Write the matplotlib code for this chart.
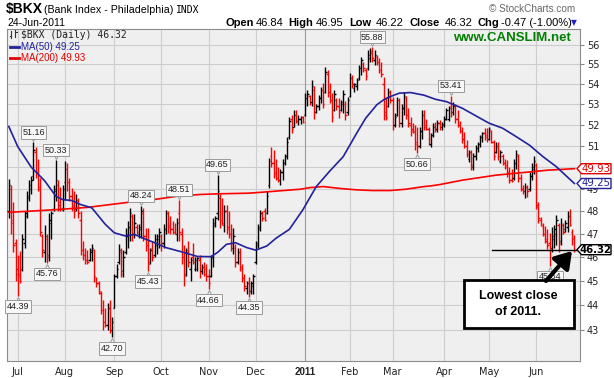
import numpy as np
import pandas as pd
import matplotlib
matplotlib.use('Agg')
import matplotlib.pyplot as plt
from matplotlib.collections import LineCollection
from matplotlib.patches import Polygon, Rectangle, FancyArrowPatch
from matplotlib.lines import Line2D
from matplotlib.ticker import FixedLocator, NullLocator, FuncFormatter
from matplotlib.transforms import offset_copy

# trading sessions 25-Jun-2010 .. 24-Jun-2011
holidays = ['2010-07-05', '2010-09-06', '2010-11-25', '2010-12-24',
            '2011-01-17', '2011-02-21', '2011-04-22', '2011-05-30']
days = pd.bdate_range('2010-06-25', '2011-06-24')
days = days[~days.isin(pd.to_datetime(holidays))]

opens = [48.0, 49.0, 47.5, 46.6, 45.5, 45.3, 45.5, 46.6, 47.9, 48.6,
         49.0, 49.6, 50.7, 49.8, 49.0, 46.9, 46.2, 46.8, 46.1, 47.5,
         48.1, 48.9, 49.2, 48.4, 48.1, 49.3, 49.9, 49.3, 48.7, 48.2,
         48.1, 48.4, 47.6, 46.3, 46.1, 45.9, 45.9, 46.2, 46.3, 45.1,
         44.9, 44.5, 43.8, 43.3, 43.2, 43.9, 43.0, 43.9, 45.2, 45.8,
         46.2, 45.4, 46.2, 46.9, 47.3, 47.8, 47.0, 47.3, 47.0, 47.2,
         47.9, 46.9, 46.5, 45.8, 46.4, 46.1, 46.5, 46.8, 46.9, 46.6,
         47.2, 47.9, 47.4, 47.2, 47.1, 47.0, 47.9, 47.0, 46.0, 45.3,
         46.3, 45.5, 46.0, 45.5, 45.5, 45.9, 45.4, 45.6, 45.5, 45.2,
         45.2, 46.0, 47.4, 47.9, 48.6, 47.9, 47.4, 48.0, 47.3, 47.0,
         46.4, 46.4, 45.8, 46.2, 45.5, 45.1, 44.7, 44.9, 44.6, 44.8,
         45.8, 46.6, 47.3, 47.9, 48.0, 47.9, 49.2, 50.5, 50.2, 49.8,
         49.5, 49.4, 49.8, 50.2, 50.5, 51.4, 52.3, 51.9, 52.5, 52.2,
         52.3, 52.4, 52.5, 53.3, 53.4, 53.1, 53.7, 52.6, 52.9, 53.3,
         53.7, 53.6, 54.5, 53.6, 53.2, 52.7, 53.2, 52.9, 52.7, 53.0,
         53.0, 52.6, 53.4, 54.3, 53.8, 53.9, 54.3, 54.8, 55.0, 54.7,
         54.8, 55.3, 55.7, 55.2, 55.4, 55.1, 54.7, 54.0, 52.6, 52.9,
         53.6, 53.2, 52.0, 52.5, 53.2, 52.1, 52.8, 53.3, 52.5, 52.0,
         51.8, 51.7, 51.2, 51.0, 51.7, 52.5, 52.0, 51.8, 51.1, 51.5,
         52.0, 51.8, 52.1, 51.9, 52.0, 52.3, 52.3, 52.9, 52.6, 52.9,
         52.3, 52.0, 51.7, 51.3, 51.0, 50.4, 50.7, 50.0, 50.5, 50.9,
         51.1, 51.4, 51.6, 51.5, 51.3, 51.7, 51.2, 50.7, 51.0, 50.3,
         50.5, 50.2, 50.1, 49.8, 49.4, 49.5, 50.2, 50.5, 49.5, 49.0,
         48.9, 49.1, 49.0, 49.6, 49.9, 50.1, 48.2, 47.6, 47.3, 47.0,
         46.8, 46.6, 46.4, 46.8, 47.0, 47.4, 46.7, 47.4, 47.2, 47.3,
         47.8, 47.1, 46.84]
highs = [49.45, 49.2, 48.4, 46.8, 46.1, 46.27, 47.0, 48.0, 48.9, 49.4,
         49.6, 51.16, 50.96, 50.4, 49.5, 47.0, 47.4, 47.0, 47.9, 48.0,
         49.2, 50.33, 49.4, 49.1, 49.2, 50.3, 50.2, 49.5, 49.05, 48.9,
         48.75, 48.6, 48.0, 46.7, 46.4, 46.3, 46.4, 46.55, 46.35, 45.15,
         45.0, 44.6, 44.19, 43.9, 44.1, 44.2, 43.5, 45.3, 45.7, 46.55,
         46.4, 46.3, 47.27, 47.56, 48.15, 47.86, 47.86, 47.42, 47.42, 48.24,
         48.15, 47.27, 47.27, 46.41, 46.69, 46.98, 46.98, 47.27, 46.98, 47.42,
         48.07, 48.0, 47.8, 47.56, 47.5, 47.7, 48.51, 47.27, 46.5, 46.4,
         46.7, 46.0, 46.6, 46.0, 46.0, 46.1, 45.7, 45.8, 45.7, 45.5,
         46.1, 47.7, 47.8, 49.65, 48.75, 48.6, 48.3, 48.3, 48.0, 47.42,
         47.27, 46.55, 46.41, 46.41, 45.71, 45.29, 45.0, 45.15, 45.0, 45.29,
         46.69, 47.42, 48.07, 48.0, 48.15, 48.9, 50.41, 50.96, 50.8, 50.4,
         50.0, 49.9, 50.4, 50.6, 51.4, 52.4, 52.5, 52.74, 52.7, 52.5,
         52.45, 52.45, 53.55, 53.71, 53.46, 54.2, 53.9, 53.0, 53.46, 53.87,
         54.04, 54.87, 54.71, 54.04, 53.55, 53.71, 53.3, 53.3, 53.22, 53.71,
         53.14, 53.38, 54.54, 54.46, 54.04, 54.29, 54.96, 55.39, 55.12, 54.8,
         55.74, 55.83, 55.88, 55.74, 55.48, 55.31, 55.12, 54.37, 53.38, 53.79,
         53.71, 53.38, 52.58, 53.38, 53.3, 53.0, 53.6, 53.4, 52.8, 52.4,
         52.1, 52.0, 51.9, 51.9, 52.7, 52.7, 52.3, 51.9, 51.6, 52.08,
         52.16, 52.24, 52.24, 52.16, 52.41, 52.81, 52.9, 53.41, 53.1, 53.0,
         52.7, 52.2, 51.92, 51.68, 51.28, 50.81, 50.81, 50.65, 51.04, 51.2,
         51.52, 51.68, 51.84, 51.84, 51.92, 51.76, 51.28, 51.2, 51.2, 50.81,
         50.6, 50.4, 50.33, 50.0, 49.9, 50.4, 50.81, 50.6, 49.7, 49.2,
         49.25, 49.2, 49.8, 50.2, 50.5, 50.2, 48.4, 47.76, 47.47, 47.33,
         47.2, 47.04, 47.3, 47.4, 47.83, 47.5, 47.7, 47.5, 47.62, 48.0,
         48.1, 47.2, 46.95]
lows = [47.7, 47.0, 46.2, 45.0, 44.39, 44.9, 45.4, 46.4, 47.7, 48.45,
        48.75, 49.4, 49.5, 48.9, 46.9, 46.0, 45.8, 45.76, 45.85, 46.8,
        48.0, 48.45, 48.0, 48.0, 48.0, 48.5, 48.9, 48.45, 48.0, 47.7,
        48.0, 47.7, 46.1, 45.9, 45.7, 45.7, 45.85, 45.85, 44.95, 44.74,
        44.46, 43.65, 43.0, 43.1, 43.0, 42.86, 42.70, 43.9, 45.1, 45.7,
        45.15, 45.15, 46.13, 46.41, 46.69, 46.69, 46.84, 46.98, 46.84, 46.84,
        46.69, 46.27, 45.43, 45.71, 45.85, 45.99, 46.13, 46.41, 46.27, 46.41,
        46.98, 47.05, 46.98, 46.98, 46.98, 46.7, 46.7, 45.71, 44.8, 45.2,
        45.6, 45.0, 45.7, 45.4, 45.4, 45.1, 45.3, 45.2, 45.0, 44.66,
        45.15, 45.6, 47.3, 47.6, 47.27, 47.4, 47.1, 46.98, 46.84, 46.27,
        46.13, 45.57, 45.71, 45.43, 44.94, 44.6, 44.46, 44.35, 44.46, 44.46,
        45.71, 46.41, 47.13, 47.56, 47.55, 47.86, 49.05, 50.0, 49.5, 49.4,
        49.3, 49.2, 49.4, 50.1, 50.4, 51.3, 51.6, 51.9, 52.1, 52.0,
        52.05, 52.1, 52.41, 52.9, 52.98, 52.9, 52.3, 52.55, 52.74, 53.06,
        52.8, 53.55, 53.38, 53.06, 52.16, 52.66, 52.74, 52.33, 52.66, 52.58,
        52.24, 52.5, 53.38, 53.79, 53.63, 53.71, 54.21, 54.46, 54.62, 54.2,
        54.71, 55.12, 55.12, 54.96, 54.96, 54.54, 54.37, 52.24, 52.24, 52.85,
        53.06, 51.76, 51.9, 52.45, 51.9, 51.9, 52.5, 52.3, 51.9, 51.45,
        51.6, 50.8, 50.66, 50.9, 51.3, 51.76, 51.76, 51.05, 50.96, 51.44,
        51.68, 51.68, 51.76, 51.76, 51.92, 52.24, 52.2, 52.4, 52.5, 52.1,
        51.9, 51.6, 51.12, 50.88, 50.49, 50.25, 49.86, 49.86, 50.33, 50.73,
        50.96, 51.2, 51.28, 51.2, 51.28, 51.12, 50.33, 50.65, 50.33, 50.2,
        50.1, 49.9, 49.56, 49.25, 49.3, 49.4, 49.9, 49.3, 48.9, 48.75,
        48.6, 48.65, 48.9, 49.4, 49.7, 48.1, 47.5, 47.33, 46.9, 46.62,
        46.34, 45.64, 46.2, 46.4, 46.5, 46.2, 46.5, 47.0, 47.1, 47.1,
        47.35, 46.5, 46.22]
closes = [49.2, 47.6, 46.5, 45.3, 45.2, 45.0, 46.8, 47.8, 48.7, 49.2,
          49.4, 50.8, 49.8, 49.1, 47.1, 46.3, 46.9, 46.0, 47.6, 47.9,
          49.0, 49.4, 48.3, 48.1, 49.0, 49.9, 49.3, 48.7, 48.3, 48.0,
          48.5, 47.9, 46.3, 46.1, 45.9, 45.8, 46.3, 46.4, 45.2, 44.9,
          44.6, 43.8, 43.3, 43.2, 43.9, 43.0, 43.3, 45.2, 45.5, 46.3,
          45.3, 46.0, 47.0, 47.3, 47.9, 47.0, 47.5, 47.1, 47.3, 48.0,
          46.9, 46.5, 45.7, 46.3, 46.0, 46.8, 46.9, 47.1, 46.6, 47.2,
          47.9, 47.3, 47.2, 47.1, 47.0, 47.5, 47.1, 46.0, 45.2, 46.2,
          45.8, 45.9, 45.8, 45.9, 45.95, 45.5, 45.6, 45.3, 45.2, 44.9,
          46.0, 47.5, 47.7, 48.9, 47.6, 47.5, 48.0, 47.2, 47.0, 46.5,
          46.9, 45.8, 46.2, 45.6, 45.1, 44.8, 44.9, 44.6, 44.9, 45.2,
          46.5, 47.2, 47.9, 47.7, 47.6, 48.7, 50.3, 50.2, 49.7, 49.5,
          49.4, 49.8, 50.2, 50.5, 51.2, 52.2, 51.8, 52.5, 52.2, 52.3,
          52.4, 52.15, 53.3, 53.5, 53.1, 53.9, 52.6, 52.9, 53.3, 53.7,
          53.0, 54.6, 53.6, 53.2, 52.4, 53.5, 52.9, 52.6, 53.1, 53.5,
          52.5, 53.2, 54.3, 54.0, 54.02, 54.2, 54.8, 55.2, 54.8, 54.4,
          55.5, 55.6, 55.3, 55.5, 55.1, 54.7, 54.5, 52.5, 52.4, 53.6,
          53.2, 52.0, 52.4, 53.2, 52.1, 52.8, 53.4, 52.5, 52.1, 51.7,
          51.65, 51.1, 51.0, 51.7, 52.5, 51.9, 51.8, 51.3, 51.5, 51.9,
          51.8, 52.1, 51.9, 52.05, 52.3, 52.7, 52.8, 52.6, 52.9, 52.3,
          52.0, 51.7, 51.3, 51.0, 50.6, 50.7, 50.1, 50.5, 50.9, 51.1,
          51.4, 51.6, 51.4, 51.3, 51.8, 51.2, 50.5, 51.0, 50.5, 50.7,
          50.2, 50.0, 49.8, 49.4, 49.35, 50.2, 50.6, 49.5, 49.0, 48.9,
          49.1, 48.9, 49.6, 50.0, 50.3, 48.3, 47.7, 47.4, 47.0, 46.7,
          46.5, 46.4, 46.9, 47.2, 47.6, 46.6, 47.4, 47.1, 47.5, 47.8,
          47.4, 46.79, 46.32]

# moving averages (session number, value)
ma50_bar = [0, 4, 10, 16, 21, 24, 28, 32, 37, 43, 47, 52, 56, 61, 65, 70, 78,
            84, 90, 93, 97, 101, 106, 110, 115, 119, 125, 131, 137, 143, 149,
            155, 159, 164, 167, 170, 174, 179, 185, 190, 195, 202, 210, 214,
            220, 226, 232, 238, 244, 248, 252]
ma50 = [51.92, 50.96, 50.0, 49.37, 48.67, 48.52, 48.48, 48.3, 48.15, 47.42,
        47.05, 46.91, 46.98, 46.77, 46.62, 46.41, 46.2, 46.03, 46.02, 46.2,
        46.55, 46.62, 46.41, 46.3, 46.48, 46.81, 47.2, 48.06, 49.11, 49.82,
        50.49, 51.6, 52.32, 52.98, 53.22, 53.38, 53.55, 53.58, 53.45, 53.25,
        53.13, 52.81, 52.32, 52.08, 51.84, 51.44, 51.03, 50.49, 50.02, 49.63,
        49.25]
ma200_bar = [0, 21, 35, 43, 55, 63, 75, 85, 93, 107, 115, 125, 130, 134, 140,
             148, 155, 162, 170, 177, 185, 188, 192, 202, 217, 225, 232, 240, 252]
ma200 = [47.95, 48.07, 48.17, 48.27, 48.42, 48.5, 48.67, 48.75, 48.78, 48.81,
         48.87, 48.95, 48.99, 49.06, 49.11, 49.02, 48.96, 48.93, 48.93, 48.99,
         49.11, 49.14, 49.2, 49.4, 49.63, 49.71, 49.78, 49.86, 49.93]

peak_bars = [11, 21, 59, 76, 93, 162, 197]
trough_bars = [4, 17, 46, 62, 89, 107, 182, 241]

W, H = 614, 378
fig = plt.figure(figsize=(W / 100, H / 100), dpi=100)
fig.patch.set_facecolor('white')


def fx(x):
    return x / W


def fy(y):
    return 1 - y / H


ax = fig.add_axes([fx(7), fy(361), fx(573), 332 / H])
ax.set_facecolor('#efefef')
ax.set_yscale('log')
n = len(closes)
ax.set_xlim(-0.8, 254.5)
ax.set_ylim(41.78, 56.83)

# month grid
months = [k for k in range(1, n) if days[k].month != days[k - 1].month]
for k in months:
    ax.axvline(k, color='#999999' if days[k].month == 1 else '#cdcdcd', lw=0.8, zorder=1)
ax.grid(axis='y', color='#cdcdcd', lw=0.8, zorder=1)
ax.set_axisbelow(True)

# OHLC bars, red when the close is below the previous close
down = np.r_[False, np.diff(closes) < 0]
segs, cols = [], []
for k in range(n):
    c = '#ff0000' if down[k] else 'black'
    segs += [[(k, lows[k]), (k, highs[k])],
             [(k - 0.6, opens[k]), (k, opens[k])],
             [(k, closes[k]), (k + 0.6, closes[k])]]
    cols += [c] * 3
ax.add_collection(LineCollection(segs, colors=cols, linewidths=1.0, zorder=3))

ax.plot(ma200_bar, ma200, color='#ff0000', lw=1.2, zorder=4)
ax.plot(ma50_bar, ma50, color='#22229a', lw=1.2, zorder=4)
ax.axhline(closes[-1], xmin=0.846, color='black', lw=1, zorder=4)

# axes cosmetics; the 50 label sits under the MA(200) tag
ax.yaxis.set_major_locator(FixedLocator(range(43, 57)))
ax.yaxis.set_minor_locator(NullLocator())
ax.yaxis.set_major_formatter(FuncFormatter(lambda v, p: '' if round(v) == 50 else f'{v:.0f}'))
ax.yaxis.tick_right()
ax.tick_params(axis='y', length=3, width=0.8, color='#888888', labelsize=7,
               pad=2, labelcolor='#222222')
ax.set_xticks(months)
ax.set_xticklabels(['2011' if days[k].month == 1 else days[k].strftime('%b') for k in months])
for lab, k in zip(ax.get_xticklabels(), months):
    if days[k].month == 1:
        lab.set_fontweight('bold')
        lab.set_fontfamily('Liberation Sans')
        lab.set_fontsize(8)
ax.tick_params(axis='x', length=0, labelsize=7, pad=4, labelcolor='#222222')
for s in ax.spines.values():
    s.set_color('#8c8c8c')
    s.set_linewidth(0.8)

# high / low value flags
box = dict(boxstyle='square,pad=0.18', fc='#f7f7f7', ec='#9a9a9a', lw=0.7)
for k in peak_bars:
    ax.plot([k], [highs[k]], marker='v', ms=4, mfc='#f7f7f7', mec='#9a9a9a', mew=0.7,
            transform=offset_copy(ax.transData, fig=fig, y=4, units='dots'), zorder=6,
            clip_on=False)
    ax.annotate(f'{highs[k]:.2f}', (k, highs[k]), xytext=(0, 10), textcoords='offset pixels',
                ha='center', va='center', fontsize=6.5, family='Liberation Sans',
                color='#222222', bbox=box, zorder=7)
for k in trough_bars:
    ax.plot([k], [lows[k]], marker='^', ms=4, mfc='#f7f7f7', mec='#9a9a9a', mew=0.7,
            transform=offset_copy(ax.transData, fig=fig, y=-4, units='dots'), zorder=6,
            clip_on=False)
    ax.annotate(f'{lows[k]:.2f}', (k, lows[k]), xytext=(0, -11), textcoords='offset pixels',
                ha='center', va='center', fontsize=6.5, family='Liberation Sans',
                color='#222222', bbox=box, zorder=7)


# price tags on the right edge
def tag(v, txt, col, bold=False):
    y = ax.transData.transform((0, v))[1]
    pts = [(577, y), (581.5, y + 5), (611, y + 5), (611, y - 5), (581.5, y - 5)]
    fig.add_artist(Polygon([(px / W, py / H) for px, py in pts], closed=True,
                           transform=fig.transFigure, fc='white', ec=col, lw=1, zorder=10))
    fig.text(fx(596), y / H, txt, color=col, ha='center', va='center', fontsize=7.3,
             fontweight='bold' if bold else 'normal', zorder=11)


tag(ma200[-1], f'{ma200[-1]:.2f}', '#e00000')
tag(ma50[-1], f'{ma50[-1]:.2f}', '#22229a')
tag(closes[-1], f'{closes[-1]:.2f}', 'black', bold=True)

# header
fig.text(fx(6), fy(9.5), '$BKX', fontsize=10, fontweight='bold', family='Liberation Sans', va='center')
fig.text(fx(44), fy(10), '(Bank Index - Philadelphia)', fontsize=7.7, family='Liberation Sans', va='center')
fig.text(fx(176), fy(10), 'INDX', fontsize=7, family='DejaVu Sans Mono', va='center')
fig.text(fx(7), fy(22.5), days[-1].strftime('%d-%b-%Y'), fontsize=7.5, family='Liberation Sans', va='center')
chg = closes[-1] - closes[-2]
quote = [(225, 'Open', True), (256, f'{opens[-1]:.2f}', False),
         (288, 'High', True), (316, f'{highs[-1]:.2f}', False),
         (349, 'Low', True), (376, f'{lows[-1]:.2f}', False),
         (410, 'Close', True), (445, f'{closes[-1]:.2f}', False),
         (478, 'Chg', True), (501, f'{chg:.2f} ({chg / closes[-2] * 100:.2f}%)', False)]
for xp, t, b in quote:
    fig.text(fx(xp), fy(22.5), t, fontsize=8, family='Liberation Sans',
             fontweight='bold' if b else 'normal', va='center')
fig.text(fx(571), fy(23), '\u25bc', fontsize=5.5, color='#2222cc', va='center')
fig.text(fx(489), fy(9), '\u00a9 StockCharts.com', fontsize=7.2, color='#666666',
         family='Liberation Sans', va='center')
fig.text(fx(453), fy(38), 'www.CANSLIM.net', fontsize=9.5, fontweight='bold',
         color='#008000', family='Liberation Sans', va='center', zorder=5)

# legend
for xs, ys in [((11, 11), (31, 38)), ((15, 15), (30, 37))]:
    fig.add_artist(Line2D([fx(v) for v in xs], [fy(v) for v in ys], color='#333333', lw=0.8))
fig.add_artist(Line2D([fx(9.5), fx(11)], [fy(36), fy(36)], color='#333333', lw=0.8))
fig.add_artist(Line2D([fx(15), fx(16.5)], [fy(32), fy(32)], color='#333333', lw=0.8))
fig.text(fx(21), fy(35), f'$BKX (Daily) {closes[-1]:.2f}', fontsize=7, family='DejaVu Sans Mono',
         color='#222222', va='center')
fig.add_artist(Line2D([fx(10), fx(19)], [fy(46.5), fy(46.5)], color='#22229a', lw=2))
fig.text(fx(21), fy(46.5), f'MA(50) {ma50[-1]:.2f}', fontsize=7, family='Liberation Sans',
         color='#22229a', va='center')
fig.add_artist(Line2D([fx(10), fx(19)], [fy(58), fy(58)], color='#e00000', lw=2))
fig.text(fx(21), fy(58), f'MA(200) {ma200[-1]:.2f}', fontsize=7, family='Liberation Sans',
         color='#e00000', va='center')

# callout
fig.add_artist(Rectangle((fx(464), fy(328)), fx(110), 48 / H, transform=fig.transFigure,
                         fc='white', ec='black', lw=2, zorder=10))
fig.text(fx(518), fy(304), 'Lowest close\nof 2011.', fontsize=9, fontweight='bold',
         family='Liberation Sans', ha='center', va='center', linespacing=1.35, zorder=11)
fig.add_artist(FancyArrowPatch((fx(546), fy(281)), (fx(572), fy(251)), transform=fig.transFigure,
                               arrowstyle='-|>,head_length=0.7,head_width=0.45', lw=3,
                               mutation_scale=14, color='black', shrinkA=0, shrinkB=0, zorder=12))

fig.savefig('out.png', dpi=100)
